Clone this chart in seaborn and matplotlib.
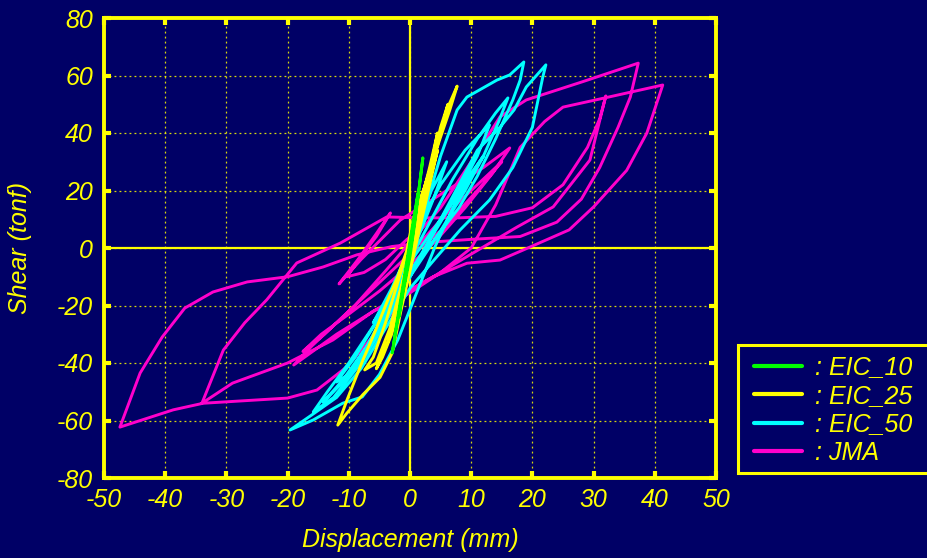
import numpy as np
import pandas as pd
import matplotlib
matplotlib.use("Agg")
import matplotlib.pyplot as plt
from matplotlib.lines import Line2D
from matplotlib.patches import Rectangle
import seaborn as sns

# ---------------- data ----------------
series_names = ["EIC_10", "EIC_25", "EIC_50", "JMA"]
legend_labels = [": EIC_10", ": EIC_25", ": EIC_50", ": JMA"]

eic10_x = [0, 0.6, 1.0, 0.4, -0.4, -0.9, -0.3, 0.5, 1.4, 0.8, 0.0, -1.0, -1.8, -1.2, -0.3, 0.6, 1.5,
           2.1, 1.5, 0.6, -0.4, -1.5, -2.4, -2.9, -2.3, -1.3, -0.4, 0.5, 1.3, 0.7, -0.2, -1.0, -0.5, 0]
eic10_y = [0, 8, 13, 4, -6, -12, -3, 7, 19, 9, -3, -14, -24, -15, -3, 9, 21,
           31.3, 21, 8, -6, -19, -30, -36.5, -28, -15, -3, 9, 19, 9, -3, -13, -6, 0]

eic25_x = [0, 1.2, 2.2, 1.3, 0.0, -1.2, -2.0, -1.0, 0.5, 2.0, 3.2, 4.5, 3.6, 2.2, 0.5, -1.5, -3.0,
           -4.5, -5.5, -3.5, -1.5, 0.5, 2.5, 4.5, 6.0, 7.7, 6.5, 4.9, 2.5, 0.5, -0.5, -2.0, -3.8,
           -5.5, -7.7, -10.3, -11.8, -10.3, -7.7, -4.9, -2.9, -1.5, 0.0, 1.5, 3.0, 4.5, 3.0, 1.0,
           -1.0, -3.3, -5.5, -7.4, -6.0, -4.0, -2.0, 0.0, 2.0, 3.5, 5.0, 6.2, 5.0, 3.0, 1.0, 0.0]
eic25_y = [0, 12, 20, 10, -4, -15, -22, -10, 5, 18, 28, 40, 30, 15, -1, -18, -30,
           -38, -42, -32, -15, 4, 22, 36, 48, 56.3, 48, 38, 22, 10, -0.7, -10, -19,
           -28, -39, -52.9, -61.6, -57.4, -51, -45, -36.5, -22, -8, 6, 20, 34, 22, 6,
           -10, -28, -40, -42.4, -38, -26, -12, 2, 16, 28, 42, 50, 40, 24, 8, 0]

eic50_x = [0, 1.5, 3, 1.5, -1, -3, -1.5, 1, 3.5, 6, 4, 1, -2, -5, -7.8, -5, -2, 1, 5, 9, 13,
           11, 8, 5, 1, -3, -7, -10, -12, -9, -5, -1, 3, 7, 11, 14, 16,
           14.5, 12, 9, 5, 0, -5, -9, -12.5, -14.2, -11, -7, -3, 0, 2.5, 5, 7.7, 9.3, 14.2, 16.3, 18.6,
           18, 16.8, 14, 11, 8, 4, 0, -5, -10, -13.5, -15.8, -12.5, -8, -4, 0, 4, 8, 11, 14.7, 17, 19, 22.2,
           21.7, 20, 16.8, 13, 8.2, 4, 0, -4, -8, -12, -16, -19.6, -15.8, -11, -7.8, -5, -2, 1, 4, 7, 10, 12,
           9, 5, 1, -3, -6, -3, 0]
eic50_y = [0, 8, 16, 6, -8, -18, -8, 6, 20, 30, 18, 2, -14, -28, -38, -26, -10, 6, 22, 34, 42.8,
           32, 20, 9, -5, -20, -34, -44, -46.6, -38, -24, -8, 8, 24, 38, 47, 52.2,
           44, 32, 20, 6, -10, -28, -42, -50, -53.6, -46, -34, -18, -4, 14, 32, 48, 52.5, 58.4, 60.2, 64.7,
           58.4, 51.5, 38, 25, 14, 3, -8, -24, -40, -50, -57, -52, -40, -26, -10, 6, 22, 34, 42, 48, 56, 63.7,
           59.5, 42, 28, 16.7, 6.3, -4, -14, -28, -42, -52, -58, -63.3, -59.8, -54, -51.8, -44, -32, -16, 0, 14, 26, 32,
           22, 10, -2, -16, -26, -14, 0]

jma_x = [0, 2, -0.5, -4, -7.5, -10.3, -8, -5.5, -3.2, -5.5, -8.5, -11.6, -8, -4.5, -1.6, 6, 12, 16.3,
         13.5, 9, 4, 0, -5, -10, -14.5, -17.5,
         -14, -9, -4, 0, 5, 10, 14.7, 19, 28, 37.3,
         36, 34, 31, 28, 24, 18, 10, 3, -3, -8.7, -14.2, -20, -26.6, -32.2, -36.8, -40.5, -44.1, -47.4,
         -38.7, -33.8, -20, -15.2, -10.3, -5, 0, 3.8, 9.3, 17.5, 23.4, 29.4, 32,
         31, 29, 25, 20, 14, 8, 2, -3.8, -11.4, -18.5, -23.4, -27, -30.5, -34,
         -29, -20, -12.6, -6, 0, 4.9, 10, 14, 18, 22, 25, 31.6, 41.3,
         38.7, 35.4, 30, 26, 18.5, 14.7, 9.3, 3.8, 0, -6, -12, -19,
         -16, -12, -6, 0, 6, 12, 15, 11, 5, 0]
jma_y = [0, 7, 3, -4, -8.5, -10, -3, 4, 12.2, 5, -4, -12.5, -4, 3.5, 9.7, 20, 28, 34.8,
         26, 14, 2, -6, -15, -23, -30, -36,
         -30, -20, -8, 2, 14, 30, 45.6, 51.5, 57.7, 64.3,
         52.5, 42, 28, 17, 9, 4, 3, 2, 0.5, -2.4, -6.6, -10, -11.8, -15.3, -20.9, -31, -43.5, -62.3,
         -56.3, -54, -52.2, -49.4, -41.3, -28, -14.6, -10, -3, 7.3, 14.3, 30.6, 52.9,
         45, 35, 22, 14, 11, 10.5, 10.5, 10.8, 1.7, -5.2, -18, -26, -35.5, -54,
         -47, -40, -32, -22, -15.6, -8.7, 0, 15, 35, 44, 49, 52.1, 56.7,
         40, 27, 14.3, 6.3, -0.7, -4.2, -5.3, -10, -14.6, -22, -30, -40.7,
         -34, -26, -14, -2, 12, 24, 30, 20, 6, -3]

x_ticks = [-50, -40, -30, -20, -10, 0, 10, 20, 30, 40, 50]
y_ticks = [-80, -60, -40, -20, 0, 20, 40, 60, 80]

# ---------------- style ----------------
NAVY = "#000066"
YEL = "#FFFF00"
colors = {"EIC_10": "#00FF00", "EIC_25": "#FFFF00", "EIC_50": "#00FFFF", "JMA": "#FF00CC"}

sns.set_theme(style="dark")
plt.rcParams["font.family"] = ["Liberation Sans", "DejaVu Sans"]
plt.rcParams["font.style"] = "italic"
plt.rcParams["axes.unicode_minus"] = False

W, H = 927, 558
fig = plt.figure(figsize=(W / 100, H / 100), dpi=100, facecolor=NAVY)
ax = fig.add_axes([104 / W, 80 / H, 612 / W, 460 / H])
ax.set_facecolor(NAVY)

data = {
    "EIC_10": (eic10_x, eic10_y),
    "EIC_25": (eic25_x, eic25_y),
    "EIC_50": (eic50_x, eic50_y),
    "JMA": (jma_x, jma_y),
}

ax.set_xlim(-50, 50)
ax.set_ylim(-80, 80)
ax.set_xticks(x_ticks)
ax.set_yticks(y_ticks)
ax.grid(True, color=YEL, linestyle=(0, (1.5, 2.5)), linewidth=0.9, alpha=0.85, zorder=0)
ax.axhline(0, color=YEL, lw=1.6, zorder=1)
ax.axvline(0, color=YEL, lw=1.6, zorder=1)

# draw JMA first so EIC_10 ends on top
for i, name in enumerate(reversed(series_names)):
    xs, ys = data[name]
    df = pd.DataFrame({"Displacement": xs, "Shear": ys})
    sns.lineplot(data=df, x="Displacement", y="Shear", sort=False, estimator=None,
                 color=colors[name], lw=2.1, ax=ax, zorder=2 + i)

for sp in ax.spines.values():
    sp.set_color(YEL)
    sp.set_linewidth(2.8)
    sp.set_visible(True)

ax.tick_params(axis="both", which="both", direction="in", length=5, width=3,
               color=YEL, labelcolor=YEL, labelsize=18,
               top=True, right=True, bottom=True, left=True)
ax.tick_params(axis="x", pad=7)
ax.tick_params(axis="y", pad=8)
for lab in ax.get_xticklabels() + ax.get_yticklabels():
    lab.set_fontstyle("italic")

ax.set_xlabel("Displacement (mm)", color=YEL, fontsize=18, fontstyle="italic")
ax.set_ylabel("Shear (tonf)", color=YEL, fontsize=18, fontstyle="italic")
ax.xaxis.set_label_coords(0.5, -0.108)
ax.yaxis.set_label_coords(-0.118, 0.5)

# legend frame (extends past the right edge of the figure, as in the reference)
frame = Rectangle((738 / W, 1 - 473 / H), 210 / W, 128 / H, transform=fig.transFigure,
                  facecolor=NAVY, edgecolor=YEL, linewidth=2.2, clip_on=False, zorder=5)
fig.add_artist(frame)

handles = [Line2D([0], [0], color=colors[n], lw=3) for n in series_names]
leg = fig.legend(handles, legend_labels, loc="upper left",
                 bbox_to_anchor=(754 / W, 1 - 355.5 / H), bbox_transform=fig.transFigure,
                 frameon=False, fontsize=18, handlelength=1.9,
                 handletextpad=0.55, borderpad=0, labelspacing=0.18, borderaxespad=0)
leg.set_zorder(6)
for t in leg.get_texts():
    t.set_color(YEL)
    t.set_fontstyle("italic")

fig.savefig("out.png", dpi=100, facecolor=NAVY)
